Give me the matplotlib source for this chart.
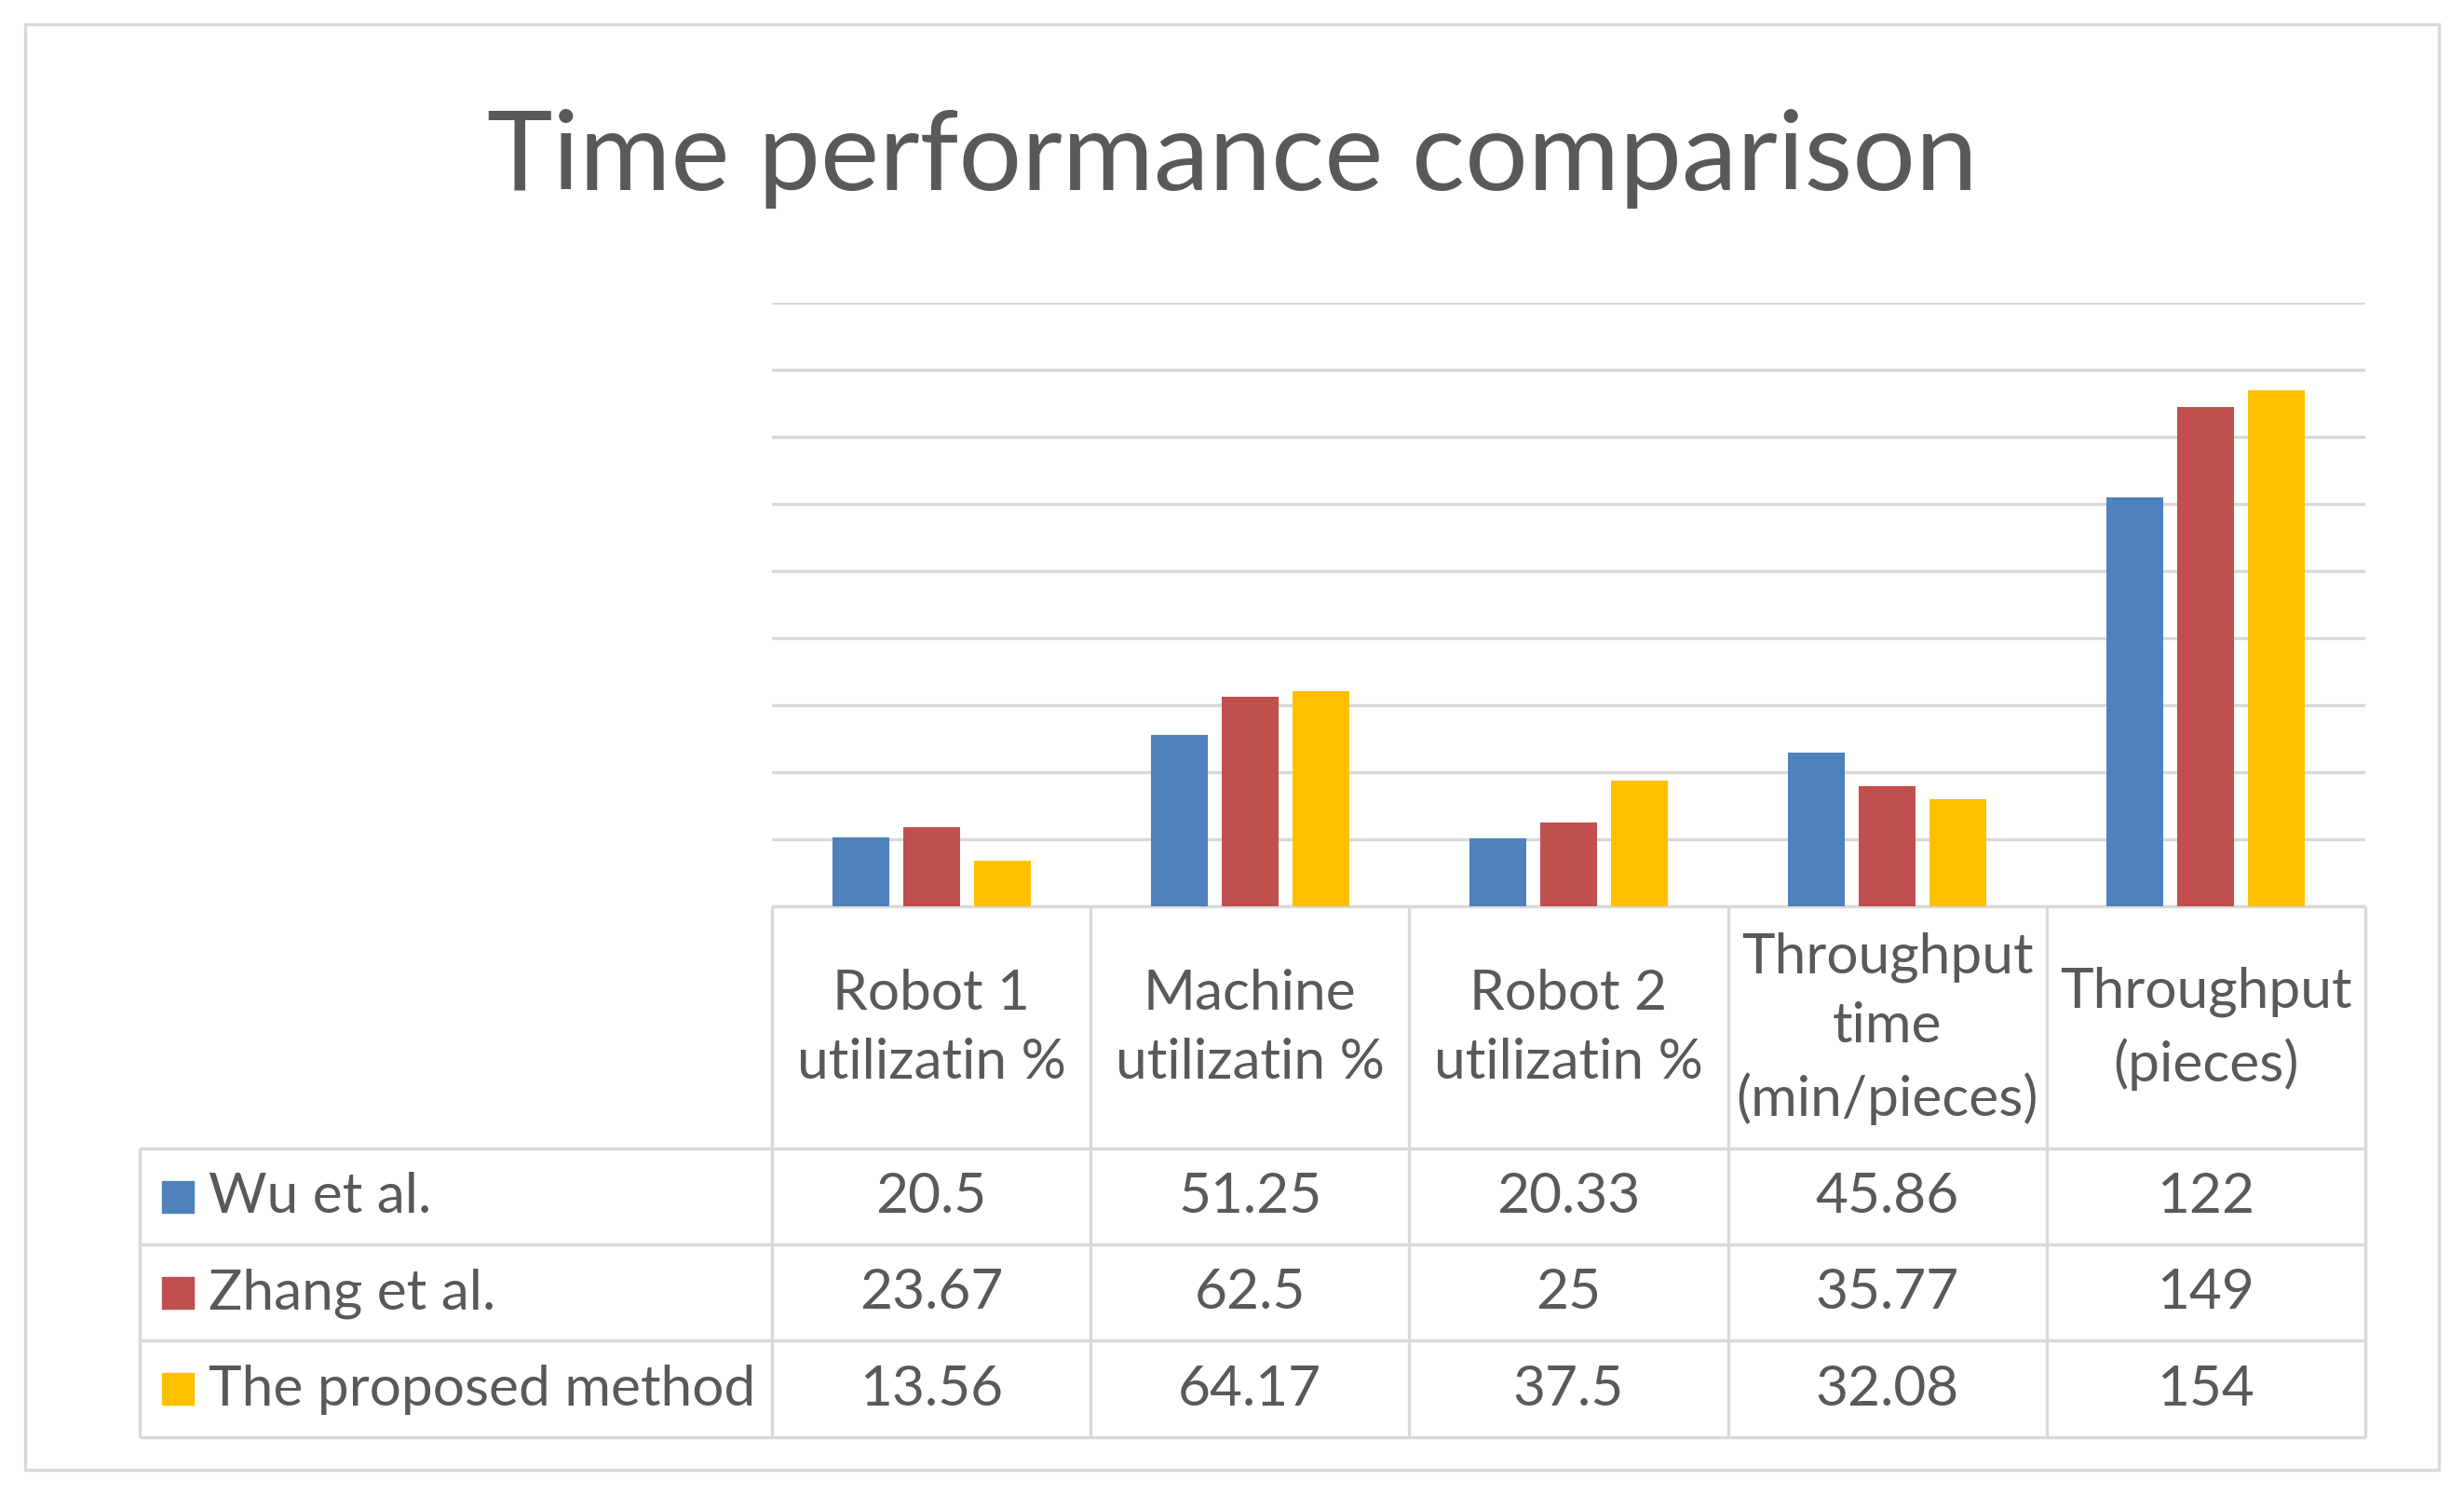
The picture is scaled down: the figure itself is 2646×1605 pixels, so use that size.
import matplotlib.pyplot as plt
import numpy as np
from matplotlib.patches import Rectangle

# chart data
categories = ["Robot 1\nutilizatin %", "Machine\nutilizatin %", "Robot 2\nutilizatin %",
              "Throughput\ntime\n(min/pieces)", "Throughput\n(pieces)"]
series_names = ["Wu et al.", "Zhang et al.", "The proposed method"]
wu = [20.5, 51.25, 20.33, 45.86, 122]
zhang = [23.67, 62.5, 25, 35.77, 149]
proposed = [13.56, 64.17, 37.5, 32.08, 154]
colors = ["#4F81BD", "#C0504D", "#FFC000"]

series = [wu, zhang, proposed]
grey = "#D9D9D9"
txt = "#595959"
font = "Lato"
fs = 43.5

W, H = 2646, 1606
fig = plt.figure(figsize=(W / 100, H / 100), dpi=100)

# layout in pixels
pl, pr, pt, pb = 829, 2540, 326, 974
leg_left = 150
row_lines = [1234, 1337, 1440, 1544]

# overlay axes in pixel coordinates for border, title and table
ov = fig.add_axes([0, 0, 1, 1])
ov.set_xlim(0, W)
ov.set_ylim(H, 0)
ov.axis("off")
ov.add_patch(Rectangle((27, 27), W - 54, H - 54, fill=False, ec=grey, lw=2.4))

ov.text(W / 2, 170, "Time performance comparison", ha="center", va="center",
        fontsize=86, color=txt, family=font)

# bar axes
ax = fig.add_axes([pl / W, 1 - pb / H, (pr - pl) / W, (pb - pt) / H])
x = np.arange(len(categories))
for i, (vals, c) in enumerate(zip(series, colors)):
    ax.bar(x + (i - 1) * 0.222, vals, width=0.178, color=c, zorder=3)
ax.set_xlim(-0.5, len(categories) - 0.5)
ax.set_ylim(0, 180)
ax.set_yticks(range(0, 181, 20))
ax.yaxis.grid(True, color=grey, lw=2.4)
ax.set_axisbelow(True)
ax.tick_params(left=False, bottom=False, labelleft=False, labelbottom=False)
for s in ax.spines.values():
    s.set_visible(False)
ax.patch.set_alpha(0)

# data table
colw = (pr - pl) / len(categories)
col_edges = [pl + i * colw for i in range(len(categories) + 1)]
col_centers = [pl + (i + 0.5) * colw for i in range(len(categories))]

ov.hlines(pb, pl, pr, color=grey, lw=2.4)
ov.hlines(row_lines, leg_left, pr, color=grey, lw=2.4)
ov.vlines(col_edges, pb, row_lines[-1], color=grey, lw=2.4)
ov.vlines(leg_left, row_lines[0], row_lines[-1], color=grey, lw=2.4)

for cx, cat in zip(col_centers, categories):
    ov.text(cx, (pb + row_lines[0]) / 2, cat, ha="center", va="center",
            multialignment="center", linespacing=1.47, fontsize=fs, color=txt, family=font)

for r, (name, vals, c) in enumerate(zip(series_names, series, colors)):
    cy = (row_lines[r] + row_lines[r + 1]) / 2
    ov.add_patch(Rectangle((174, cy - 17), 34, 34, color=c))
    ov.text(224, cy, name, ha="left", va="center", fontsize=fs, color=txt, family=font)
    for cx, v in zip(col_centers, vals):
        ov.text(cx, cy, f"{v:g}", ha="center", va="center", fontsize=fs, color=txt, family=font)

fig.savefig("out.png", dpi=100)
